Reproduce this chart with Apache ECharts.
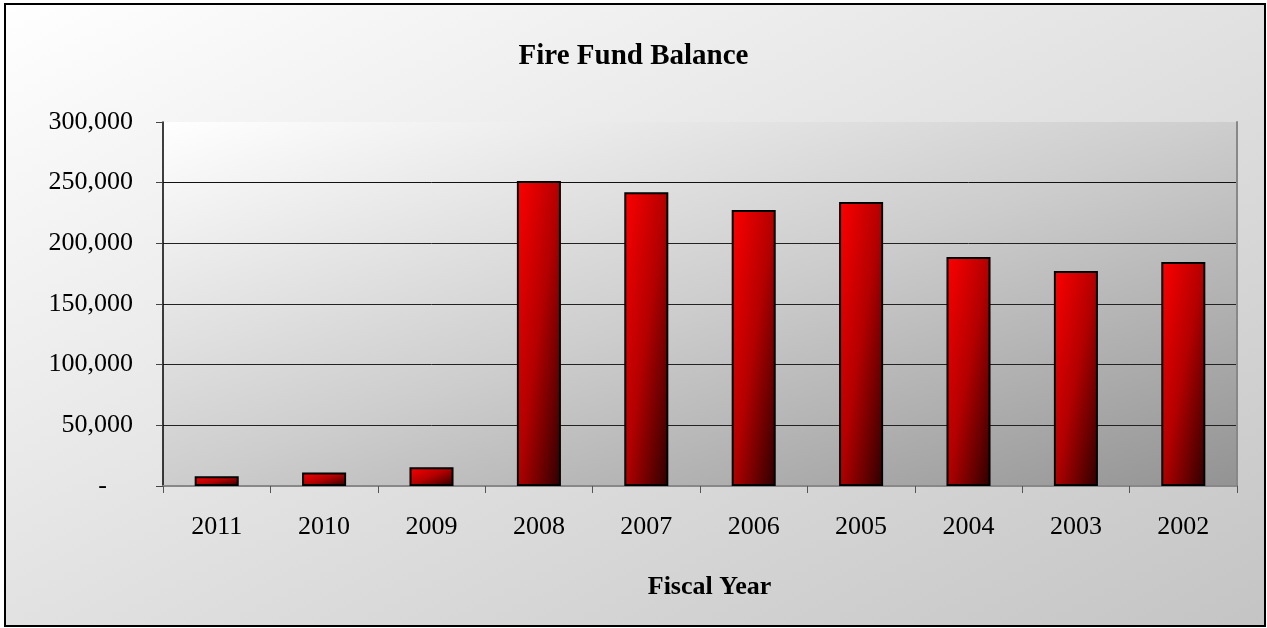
<!DOCTYPE html>
<html>
<head>
<meta charset="utf-8">
<script src="https://cdn.jsdelivr.net/npm/echarts@6/dist/echarts.min.js"></script>
<style>
  html, body { margin: 0; padding: 0; background: #ffffff; }
  #chart { width: 1267px; height: 628px; }
</style>
</head>
<body>
<div id="chart"></div>
<script>
// Fire fund balance by fiscal year
const years = ['2011', '2010', '2009', '2008', '2007', '2006', '2005', '2004', '2003', '2002'];
const balances = [8100, 11200, 15500, 251300, 242200, 227400, 234000, 188800, 177300, 184700];
const yTicks = [0, 50000, 100000, 150000, 200000, 250000, 300000];

const FONT = '"Liberation Serif", "Times New Roman", serif';
const W = 1267, H = 628;
const GRID = { left: 163, top: 122, right: 30, bottom: 142 };
const plotW = W - GRID.left - GRID.right;
const plotH = H - GRID.top - GRID.bottom;
const yMax = yTicks[yTicks.length - 1];
const barFrac = 0.41;

// Gradient whose colour bands run parallel to the box's anti-diagonal,
// for a box of pixel size w x h (relative coords of the end point).
function diagGradient(w, h, stops) {
  const d = h * h + w * w;
  const x2 = d ? (2 * h * h) / d : 1;
  const y2 = d ? (2 * w * w) / d : 1;
  return new echarts.graphic.LinearGradient(0, 0, x2, y2, stops);
}

const barStops = [
  { offset: 0, color: '#ff0000' },
  { offset: 0.5, color: '#b20000' },
  { offset: 1, color: '#2c0000' }
];

function fmtThousands(v) {
  return v.toString().replace(/\B(?=(\d{3})+(?!\d))/g, ',');
}

const chart = echarts.init(document.getElementById('chart'), null, { renderer: 'canvas' });

chart.setOption({
  animation: false,
  backgroundColor: '#ffffff',
  graphic: [{
    type: 'rect',
    z: -10,
    silent: true,
    shape: { x: 5, y: 4, width: 1260, height: 622 },
    style: {
      fill: diagGradient(1260, 622, [
        { offset: 0, color: '#ffffff' },
        { offset: 1, color: '#c4c4c4' }
      ]),
      stroke: '#000000',
      lineWidth: 2
    }
  }],
  title: {
    text: 'Fire Fund Balance',
    left: 'center',
    top: 37,
    textStyle: { fontFamily: FONT, fontSize: 29, fontWeight: 'bold', color: '#000' }
  },
  grid: {
    left: GRID.left, top: GRID.top, right: GRID.right, bottom: GRID.bottom,
    show: true,
    borderWidth: 0,
    backgroundColor: diagGradient(plotW, plotH, [
      { offset: 0, color: '#ffffff' },
      { offset: 0.5, color: '#cdcdcd' },
      { offset: 1, color: '#939393' }
    ])
  },
  xAxis: [{
    type: 'category',
    data: years,
    position: 'bottom',
    name: 'Fiscal Year',
    nameLocation: 'middle',
    nameGap: 88,
    nameTextStyle: { fontFamily: FONT, fontSize: 26, fontWeight: 'bold', color: '#000', padding: [0, 0, 0, 19] },
    axisLine: { show: true, lineStyle: { color: '#000', width: 1.5 } },
    axisTick: { show: true, length: 7, lineStyle: { color: '#555', width: 1 } },
    axisLabel: { fontFamily: FONT, fontSize: 26, color: '#000', margin: 28 },
    splitLine: { show: false }
  }, {
    type: 'category',
    data: years,
    position: 'top',
    axisLine: { show: true, lineStyle: { color: '#888', width: 2 } },
    axisTick: { show: false },
    axisLabel: { show: false },
    splitLine: { show: false }
  }],
  yAxis: [{
    type: 'value',
    min: 0,
    max: yMax,
    interval: 50000,
    axisLine: { show: true, lineStyle: { color: '#000', width: 1.5 } },
    axisTick: { show: true, length: 7, lineStyle: { color: '#444', width: 1 } },
    axisLabel: {
      fontFamily: FONT, fontSize: 26, color: '#000', margin: 30,
      formatter: function (v) { return v === 0 ? '{dash|-}' : fmtThousands(v); },
      rich: { dash: { fontFamily: FONT, fontSize: 26, color: '#000', padding: [0, 26, 0, 0] } }
    },
    splitLine: { show: true, lineStyle: { color: ['#000', '#222', '#222', '#222', '#222', '#111', 'rgba(0,0,0,0)'], width: 1 } }
  }, {
    type: 'value',
    min: 0,
    max: yMax,
    interval: 50000,
    position: 'right',
    axisLine: { show: true, lineStyle: { color: '#888', width: 2 } },
    axisTick: { show: false },
    axisLabel: { show: false },
    splitLine: { show: false }
  }],
  series: [{
    type: 'bar',
    data: balances,
    xAxisIndex: 0,
    yAxisIndex: 0,
    barWidth: (barFrac * 100) + '%',
    itemStyle: {
      borderColor: '#000',
      borderWidth: 2,
      color: function (p) {
        const h = p.value / yMax * plotH;
        const w = plotW / years.length * barFrac;
        return diagGradient(w, h, barStops);
      }
    }
  }]
});
</script>
</body>
</html>
